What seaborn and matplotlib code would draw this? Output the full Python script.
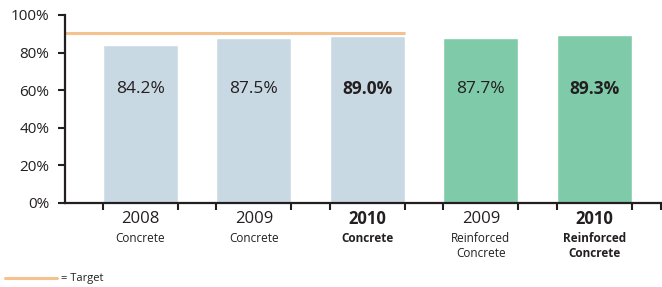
import matplotlib
matplotlib.use("Agg")
import matplotlib.pyplot as plt
import matplotlib.transforms as mtransforms
import seaborn as sns
import pandas as pd

years = ["2008", "2009", "2010", "2009", "2010"]
types = ["Concrete", "Concrete", "Concrete", "Reinforced\nConcrete", "Reinforced\nConcrete"]
values = [84.2, 87.5, 89.0, 87.7, 89.3]
groups = ["Concrete", "Concrete", "Concrete", "Reinforced", "Reinforced"]
bold = [False, False, True, False, True]
target = 90.5
yticks = [0, 20, 40, 60, 80, 100]
ytick_labels = ["0%", "20%", "40%", "60%", "80%", "100%"]

sns.set_theme(style="white")
plt.rcParams["font.family"] = ["Open Sans", "DejaVu Sans"]

df = pd.DataFrame({"cat": [f"{y}\n{t}" for y, t in zip(years, types)],
                   "value": values, "group": groups})

fig = plt.figure(figsize=(6.62, 2.87), dpi=100)
ax = fig.add_axes([0.098, 0.293, 0.902, 0.655])
dark = "#231f20"

sns.barplot(data=df, x="cat", y="value", hue="group",
            palette={"Concrete": "#c9d9e3", "Reinforced": "#7fcba9"},
            width=0.66, dodge=False, legend=False, ax=ax, saturation=1)

ax.set_xlim(-0.665, 4.595)
ax.set_ylim(0, 100)
ax.set_yticks(yticks)
ax.set_yticklabels(ytick_labels, fontsize=11, color=dark)
ax.set_xlabel("")
ax.set_ylabel("")
ax.set_xticks([])

# minor ticks at bar edges
edges = []
for i in range(len(values)):
    edges += [i - 0.33, i + 0.33]
edges.append(4.585)
ax.set_xticks(edges, minor=True)
ax.tick_params(axis="x", which="minor", direction="out", length=5, width=1.5, color=dark, bottom=True)
ax.tick_params(axis="y", which="major", direction="out", length=5, width=1.5, color=dark, left=True, pad=6)

for s in ["top", "right"]:
    ax.spines[s].set_visible(False)
for s in ["left", "bottom"]:
    ax.spines[s].set_color(dark)
    ax.spines[s].set_linewidth(1.6)

# target line
ax.plot([-0.665, 2.33], [target, target], color="#f3c28f", lw=2.2, solid_capstyle="butt", clip_on=False)

# value labels
for i, (v, b) in enumerate(zip(values, bold)):
    ax.text(i, 60.5, f"{v:.1f}%", ha="center", va="center", fontsize=12.5,
            fontweight="bold" if b else "normal", color=dark)

# category labels
trans = mtransforms.blended_transform_factory(ax.transData, ax.transAxes)
for i, (y, t, b) in enumerate(zip(years, types, bold)):
    w = "bold" if b else "normal"
    ax.text(i, -0.085, y, ha="center", va="center", fontsize=12, fontweight=w, color=dark, transform=trans)
    ax.text(i, -0.155, t, ha="center", va="top", fontsize=8.5, fontweight=w, color=dark,
            transform=trans, linespacing=1.2)

# legend
fig.lines.append(plt.Line2D([5 / 662, 57 / 662], [1 - 278 / 287, 1 - 278 / 287],
                            color="#f3c28f", lw=2.2, transform=fig.transFigure))
fig.text(61 / 662, 1 - 278 / 287, "= Target", ha="left", va="center", fontsize=8, color=dark)

fig.savefig("out.png", dpi=100)
